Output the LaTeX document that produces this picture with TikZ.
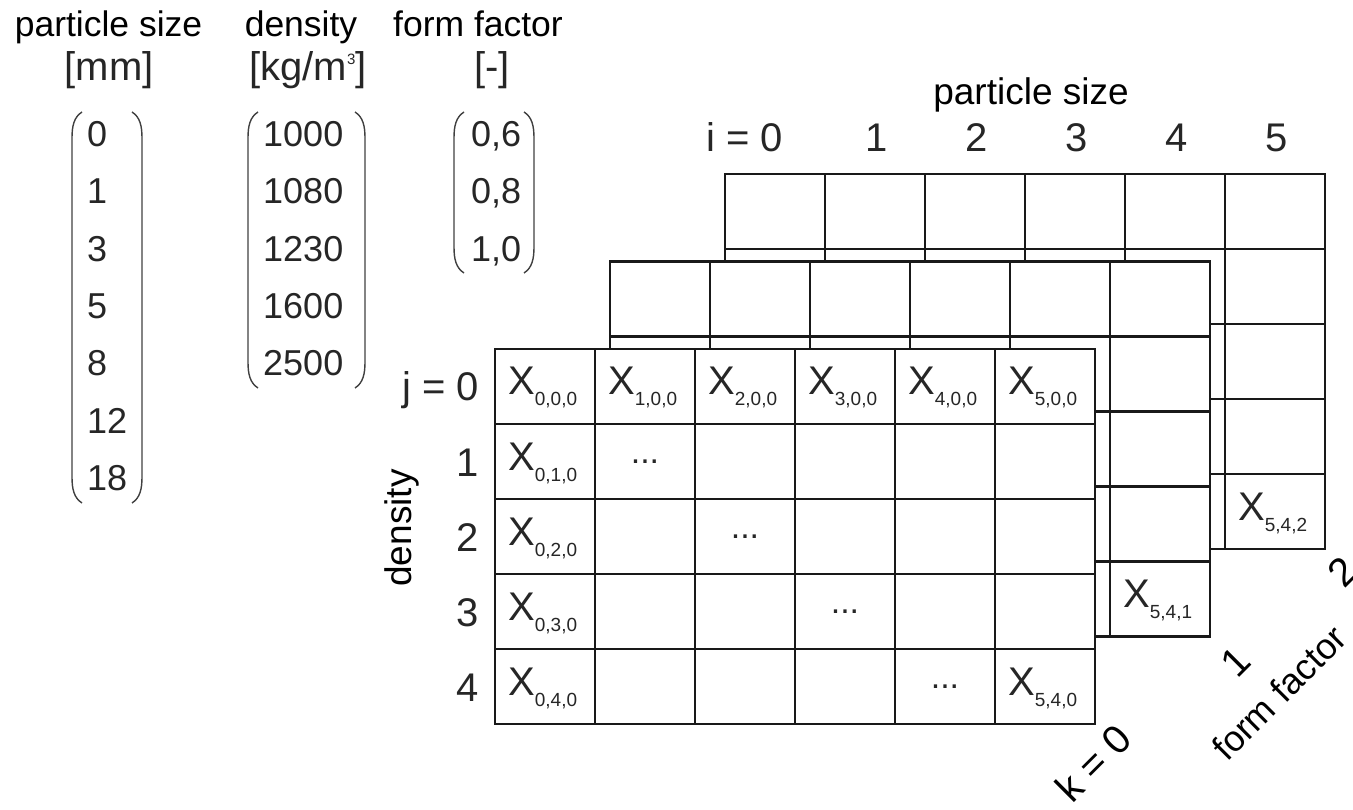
\documentclass[tikz,border=0pt]{standalone}
\usepackage{fontspec}
\setmainfont{Liberation Sans}
\newcommand{\Xs}[1]{{\fontsize{40}{44}\selectfont X}\raisebox{-11pt}{\fontsize{19}{20}\selectfont #1}}
\begin{document}
\begin{tikzpicture}[x=1pt,y=-1pt,
  head/.style={font=\fontsize{35.5}{40}\selectfont, inner sep=0pt, text=black},
  unit/.style={font=\fontsize{40}{44}\selectfont, inner sep=0pt, text=black!85},
  num/.style={font=\fontsize{36}{40}\selectfont, inner sep=0pt, text=black!85, anchor=base west},
  idx/.style={font=\fontsize{40}{44}\selectfont, inner sep=0pt, text=black!85},
  axl/.style={font=\fontsize{36}{40}\selectfont, inner sep=0pt, text=black},
  cell/.style={draw=black!90, fill=white, line width=2.8pt, minimum width=100pt, minimum height=75pt, inner sep=0pt, outer sep=0pt},
  xl/.style={anchor=base west, inner sep=0pt, text=black!85},
  dots/.style={font=\fontsize{34}{40}\selectfont, anchor=base, inner sep=0pt, text=black!85},
  paren/.style={line width=1.4pt, draw=black!75},
]
\useasboundingbox (0,0) rectangle (1353,810);

% ---- header texts
\node[head, anchor=base] (hps) at (108.5,37) {particle size};
\node[head, anchor=base] (hd) at (301,37) {density};
\node[head, anchor=base] (hff) at (478,37) {form factor};
\node[unit] (ups) at (109,70.5) {[mm]};
\node[unit] (ud) at (308,70.5) {[kg/m\raisebox{0.42em}{\fontsize{15}{15}\selectfont 3}]};
\node[unit] (uff) at (492,70.5) {[-]};

% ---- vectors
\foreach \v [count=\k from 0] in {0,1,3,5,8,12,18}
  \node[num] (p\k) at (87,{133+57.3*\k+13.5}) {\v};
\foreach \v [count=\k from 0] in {1000,1080,1230,1600,2500}
  \node[num] (d\k) at (263,{133+57.3*\k+13.5}) {\v};
\node[num] (f0) at (471,146.5) {0,6};
\node[num] (f1) at (471,203.8) {0,8};
\node[num] (f2) at (471,261.1) {1,0};

% parentheses
\draw[paren] (82,112) .. controls (74,117) and (72,126) .. (72,138) -- (72,477) .. controls (72,489) and (74,498) .. (82,503);
\draw[paren] (132,112) .. controls (140,117) and (142,126) .. (142,138) -- (142,477) .. controls (142,489) and (140,498) .. (132,503);
\draw[paren] (258,112) .. controls (250,117) and (248,126) .. (248,138) -- (248,362) .. controls (248,374) and (250,383) .. (258,388);
\draw[paren] (355,112) .. controls (363,117) and (365,126) .. (365,138) -- (365,362) .. controls (365,374) and (363,383) .. (355,388);
\draw[paren] (464,112) .. controls (456,117) and (454,126) .. (454,138) -- (454,247) .. controls (454,259) and (456,268) .. (464,273);
\draw[paren] (524,112) .. controls (532,117) and (534,126) .. (534,138) -- (534,247) .. controls (534,259) and (532,268) .. (524,273);

% ---- grids: back (k=2), middle (k=1), front (k=0)
\foreach \i in {0,...,5}
  \foreach \j in {0,...,4}
    \node[cell] (b-\i-\j) at ({775+100*\i},{211.5+75*\j}) {};
\foreach \i in {0,...,5}
  \foreach \j in {0,...,4}
    \node[cell] (m-\i-\j) at ({660+100*\i},{299+75*\j}) {};
\foreach \i in {0,...,5}
  \foreach \j in {0,...,4}
    \node[cell] (f-\i-\j) at ({545+100*\i},{386.5+75*\j}) {};

% ---- cell contents
\foreach \i in {0,...,5}
  \node[xl] (x\i00) at ([shift={(-37,8.5)}]f-\i-0.center) {\Xs{\i,0,0}};
\foreach \j in {1,...,4}
  \node[xl] (x0\j0) at ([shift={(-37,8.5)}]f-0-\j.center) {\Xs{0,\j,0}};
\foreach \d in {1,...,4}
  \node[dots] (dt\d) at ([shift={(0,2)}]f-\d-\d.center) {...};
\node[xl] (x540) at ([shift={(-37,8.5)}]f-5-4.center) {\Xs{5,4,0}};
\node[xl] (x541) at ([shift={(-37,8.5)}]m-5-4.center) {\Xs{5,4,1}};
\node[xl] (x542) at ([shift={(-37,8.5)}]b-5-4.center) {\Xs{5,4,2}};

% ---- axis labels
\node[axl, font=\fontsize{37}{40}\selectfont, anchor=base] (aps) at (1031,105) {particle size};
\node[idx, anchor=base east] (i0) at (783,152) {i = 0};
\foreach \i in {1,...,5}
  \node[idx, anchor=base] (i\i) at ({777+100*\i},152) {\i};

\node[idx, anchor=base east] (j0) at (479,401) {j = 0};
\foreach \j in {1,...,4}
  \node[idx, anchor=base east] (j\j) at (479,{401+75*\j}) {\j};
\node[axl, font=\fontsize{37}{40}\selectfont, rotate=90] (aden) at (402,528) {density};

\node[axl, font=\fontsize{40}{44}\selectfont, rotate=45] (k0) at (1093,763) {k = 0};
\node[axl, font=\fontsize{40}{44}\selectfont, rotate=45] (k1) at (1236,662) {1};
\node[axl, font=\fontsize{40}{44}\selectfont, rotate=45] (k2) at (1342,572) {2};
\node[axl, rotate=45] (aff) at (1279,693) {form factor};
\end{tikzpicture}
\end{document}
